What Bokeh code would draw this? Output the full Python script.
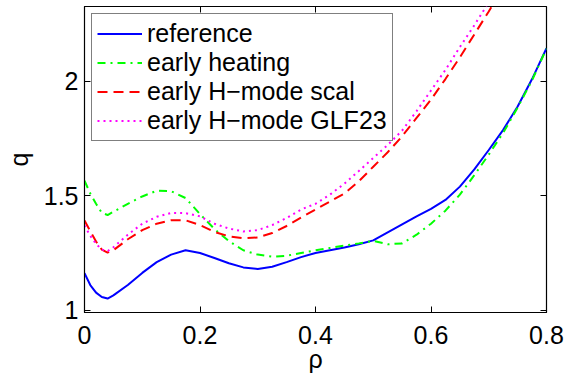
from bokeh.plotting import figure
from bokeh.models import Range1d, FixedTicker, LinearAxis, Legend, LegendItem
from bokeh.embed import file_html
from bokeh.resources import INLINE

rho = [0.0, 0.01, 0.02, 0.03, 0.04, 0.05, 0.075, 0.1, 0.125, 0.15, 0.175, 0.2,
       0.225, 0.25, 0.275, 0.3, 0.325, 0.35, 0.375, 0.4, 0.425, 0.45, 0.475, 0.5,
       0.525, 0.55, 0.575, 0.6, 0.625, 0.65, 0.675, 0.7, 0.725, 0.75, 0.775, 0.8]

q_reference = [1.162, 1.11, 1.077, 1.058, 1.051, 1.065, 1.11, 1.163, 1.21, 1.243, 1.262, 1.25,
               1.228, 1.205, 1.187, 1.180, 1.19, 1.21, 1.232, 1.25, 1.262, 1.274, 1.288, 1.305,
               1.34, 1.375, 1.41, 1.443, 1.482, 1.54, 1.615, 1.70, 1.788, 1.89, 2.01, 2.145]

q_early_heating = [1.566, 1.51, 1.465, 1.425, 1.416, 1.43, 1.465, 1.497, 1.522, 1.52, 1.49, 1.42,
                   1.355, 1.302, 1.262, 1.243, 1.234, 1.238, 1.25, 1.262, 1.272, 1.282, 1.292, 1.303,
                   1.288, 1.292, 1.33, 1.378, 1.435, 1.505, 1.59, 1.68, 1.775, 1.885, 2.005, 2.143]

rho_h = rho[:33]
q_hmode_scal = [1.392, 1.345, 1.30, 1.265, 1.252, 1.262, 1.31, 1.35, 1.378, 1.393, 1.393, 1.372,
                1.342, 1.323, 1.314, 1.318, 1.337, 1.368, 1.405, 1.44, 1.475, 1.51, 1.563, 1.627,
                1.69, 1.76, 1.84, 1.92, 2.01, 2.105, 2.205, 2.305, 2.41]

q_hmode_glf23 = [1.37, 1.325, 1.29, 1.265, 1.258, 1.275, 1.33, 1.378, 1.408, 1.425, 1.424, 1.41,
                 1.378, 1.357, 1.344, 1.35, 1.372, 1.403, 1.44, 1.465, 1.505, 1.553, 1.608, 1.665,
                 1.722, 1.785, 1.87, 1.96, 2.05, 2.15, 2.245, 2.345, 2.45]

x_ticks = [0, 0.2, 0.4, 0.6, 0.8]
x_tick_labels = ["0", "0.2", "0.4", "0.6", "0.8"]
y_ticks = [1, 1.5, 2]
y_tick_labels = ["1", "1.5", "2"]

FONT = "Liberation Sans"
FS = "25px"

p = figure(width=565, height=376, output_backend="svg", toolbar_location=None,
           x_range=Range1d(0, 0.8), y_range=Range1d(0.99, 2.327),
           min_border_left=84, min_border_right=19, min_border_top=6, min_border_bottom=64)
p.background_fill_color = "white"
p.border_fill_color = "white"
p.outline_line_color = "black"
p.outline_line_width = 1.2
p.xgrid.visible = False
p.ygrid.visible = False

l1 = p.line(rho, q_reference, line_color="#0000ff", line_width=2)
l2 = p.line(rho, q_early_heating, line_color="#00ff00", line_width=2, line_dash="8 5 2 5")
l3 = p.line(rho_h, q_hmode_scal, line_color="#ff0000", line_width=2, line_dash="10 6")
l4 = p.line(rho_h, q_hmode_glf23, line_color="#ff00ff", line_width=2, line_dash="2 4")

def style_axis(ax, ticks, labels, show_labels=True):
    ax.ticker = FixedTicker(ticks=ticks)
    ax.major_tick_in = 6
    ax.major_tick_out = 0
    ax.minor_tick_in = 0
    ax.minor_tick_out = 0
    ax.axis_line_color = "black"
    ax.major_tick_line_color = "black"
    ax.major_label_text_font = FONT
    ax.major_label_text_color = "black"
    if show_labels:
        ax.major_label_overrides = {t: s for t, s in zip(ticks, labels)}
        ax.major_label_text_font_size = FS
    else:
        ax.major_label_overrides = {t: "" for t in ticks}
        ax.major_label_text_font_size = "1px"
        ax.major_label_standoff = 0
        ax.axis_line_color = None

style_axis(p.xaxis[0], x_ticks, x_tick_labels)
style_axis(p.yaxis[0], y_ticks, y_tick_labels)
p.xaxis[0].major_label_standoff = 13
p.yaxis[0].major_label_standoff = 6
p.xaxis[0].axis_label = "ρ"
p.yaxis[0].axis_label = "q"
for ax in (p.xaxis[0], p.yaxis[0]):
    ax.axis_label_text_font = FONT
    ax.axis_label_text_font_size = FS
    ax.axis_label_text_font_style = "normal"
    ax.axis_label_text_color = "black"
p.xaxis[0].axis_label_standoff = -2
p.yaxis[0].axis_label_standoff = 8

top_ax = LinearAxis()
style_axis(top_ax, x_ticks, x_tick_labels, show_labels=False)
p.add_layout(top_ax, "above")
right_ax = LinearAxis()
style_axis(right_ax, y_ticks, y_tick_labels, show_labels=False)
p.add_layout(right_ax, "right")

legend = Legend(items=[
    LegendItem(label="reference", renderers=[l1]),
    LegendItem(label="early heating", renderers=[l2]),
    LegendItem(label="early H\u2212mode scal", renderers=[l3]),
    LegendItem(label="early H\u2212mode GLF23", renderers=[l4]),
], location="top_left")
legend.margin = 7
legend.padding = 5
legend.spacing = 0
legend.label_height = 29
legend.glyph_height = 29
legend.glyph_width = 45
legend.label_standoff = 5
legend.label_text_font = FONT
legend.label_text_font_size = FS
legend.label_text_color = "black"
legend.border_line_color = "black"
legend.border_line_width = 1.2
legend.background_fill_color = "white"
legend.background_fill_alpha = 1.0
p.add_layout(legend, "center")

open("out.html", "w").write(file_html(p, INLINE))
